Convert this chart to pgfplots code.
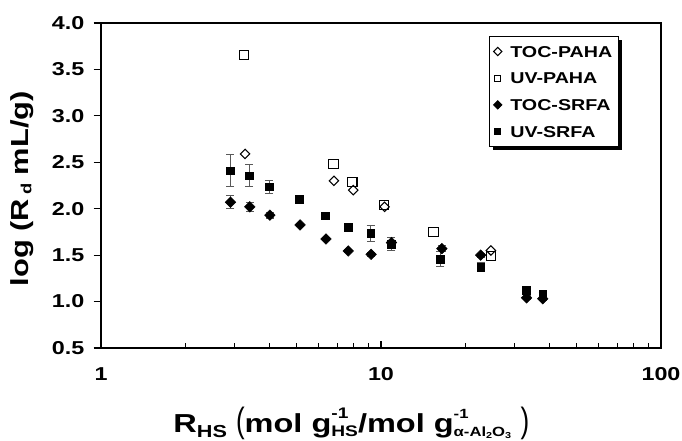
\documentclass[border=0pt]{standalone}
\usepackage{fontspec}
\setmainfont{Liberation Sans}[FakeStretch=1.25]
\usepackage{graphicx}
\usepackage{pgfplots}
\pgfplotsset{compat=1.18}
\usepackage{pgfplotstable}
\usetikzlibrary{shadows}

% R_HS against log Rd, two humic materials, two detection methods
\pgfplotstableread{
x y
3.27 2.59
6.79 2.30
7.96 2.20
10.3 2.02
24.7 1.55
}\tocpaha

\pgfplotstableread{
x y
3.24 3.655
6.76 2.48
7.90 2.29
10.24 2.04
15.4 1.746
24.7 1.49
}\uvpaha

\pgfplotstableread{
x y e
2.90 2.07 0.07
3.40 2.02 0.05
4.01 1.93 0.03
5.14 1.825 0.02
6.36 1.674 0.02
7.64 1.545 0.02
9.22 1.509 0.02
10.9 1.635 0.05
16.5 1.57 0.03
22.7 1.50 0.02
33.1 1.04 0.02
37.8 1.03 0.02
}\tocsrfa

\pgfplotstableread{
x y e
2.89 2.41 0.17
3.38 2.355 0.12
3.99 2.237 0.07
5.10 2.10 0.04
6.31 1.925 0.02
7.64 1.80 0.02
9.19 1.735 0.085
10.9 1.62 0.07
16.3 1.458 0.08
22.7 1.369 0.05
33.1 1.12 0.02
37.8 1.075 0.02
}\uvsrfa

\newcommand{\supsub}[3]{\rlap{\raisebox{10.5pt}{\fontsize{#1}{#1}\selectfont #2}}\raisebox{-3pt}{\fontsize{#1}{#1}\selectfont #3}}
\newcommand{\tinysub}[1]{\raisebox{-1.5pt}{\fontsize{6.5}{6.5}\selectfont #1}}

\begin{document}
\begin{tikzpicture}
\path[use as bounding box] (-75.75pt,-69.75pt) rectangle (435.75pt,261pt);
\begin{axis}[
  at={(0,0)}, anchor=south west,
  scale only axis, width=420pt, height=243.75pt,
  xmode=log, xmin=1, xmax=100, ymin=0.5, ymax=4,
  xtick={1,10,100}, xticklabels={1,10,100},
  minor xtick={2,3,4,5,6,7,8,9,20,30,40,50,60,70,80,90},
  ytick={0.5,1,...,4}, yticklabels={0.5,1.0,1.5,2.0,2.5,3.0,3.5,4.0},
  xtick pos=left, ytick pos=left,
  major tick length=5pt, minor tick length=3.5pt,
  ytick style={xshift=-5.5pt},
  every tick/.style={black, line width=0.8pt},
  axis line style={line width=1pt},
  ticklabel style={font=\fontsize{14}{16}\selectfont\bfseries},
  xticklabel style={yshift=-11pt},
  yticklabel style={xshift=-9pt},
  xlabel={R\raisebox{-4pt}{\fontsize{13}{13}\selectfont HS} {\mdseries\scalebox{0.8}[1.35]{(}}mol g\supsub{11.5}{-1}{HS}/mol g\supsub{10}{-1}{α-Al\tinysub{2}O\tinysub{3}}\hspace{7pt}{\mdseries\scalebox{0.8}[1.35]{)}}},
  xlabel style={at={([yshift=-63.5pt]axis description cs:0.447,0)}, anchor=base, font=\fontsize{19.5}{22}\selectfont\bfseries},
  ylabel={log (R\,\raisebox{-2pt}{\fontsize{11}{11}\selectfont d} mL/g)},
  ylabel style={at={([xshift=-59pt]axis description cs:0,0.49)}, anchor=center, font=\fontsize{18.5}{22}\selectfont\bfseries},
  legend style={at={(rel axis cs:0.693,0.96)}, anchor=north west, draw=black, line width=0.8pt,
    font=\fontsize{11.8}{13}\selectfont\bfseries, row sep=3.5pt, inner xsep=2pt, inner ysep=3pt,
    nodes={text height=10pt, text depth=1.5pt, inner sep=2.5pt},
    drop shadow={shadow xshift=2.5pt, shadow yshift=-2.5pt, opacity=1, fill=black}},
  legend cell align=left,
  legend image code/.code={\path (0cm,0cm) (0.36cm,0cm); \draw[#1, mark size=2.2pt, line width=0.7pt] plot coordinates {(0.13cm,0cm)};},
  error bars/error bar style={line width=0.8pt, black!65},
  error bars/error mark options={rotate=90, mark size=3pt, line width=0.8pt, black!65},
]
\addplot[only marks, mark=square, mark size=2.5pt, mark options={rotate=45, draw=black, fill=white, line width=0.8pt}]
  table[x=x, y=y] {\tocpaha};
\addlegendentry{TOC-PAHA}
\addplot[only marks, mark=square, mark size=3.5pt, mark options={draw=black, fill=white, line width=0.8pt}]
  table[x=x, y=y] {\uvpaha};
\addlegendentry{UV-PAHA}
\addplot[only marks, mark=square*, mark size=2.8pt, mark options={rotate=45, black},
  error bars/.cd, y dir=both, y explicit]
  table[x=x, y=y, y error=e] {\tocsrfa};
\addlegendentry{TOC-SRFA}
\addplot[only marks, mark=square*, mark size=2.9pt, mark options={black},
  error bars/.cd, y dir=both, y explicit]
  table[x=x, y=y, y error=e] {\uvsrfa};
\addlegendentry{UV-SRFA}
\end{axis}
\end{tikzpicture}
\end{document}
